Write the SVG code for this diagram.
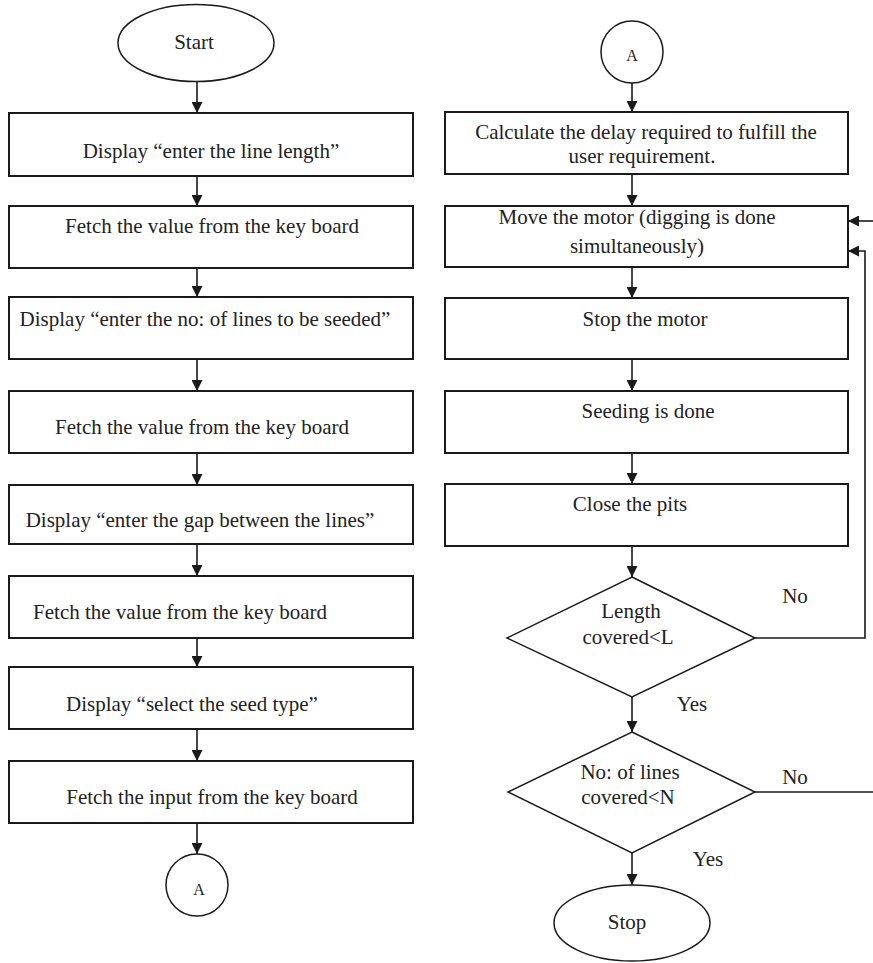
<svg xmlns="http://www.w3.org/2000/svg" width="873" height="963" viewBox="0 0 873 963">
<style>
.shape{fill:#fff;stroke:#1a1a1a;stroke-width:2}
.term{fill:#fff;stroke:#1a1a1a;stroke-width:1.5}
.t{font-family:"Liberation Serif","Times New Roman",serif;font-size:21px;fill:#222;text-anchor:middle}
.s{font-size:16px}
.c{fill:none;stroke:#1a1a1a;stroke-width:1.6}
</style>
<defs>
<marker id="ah" markerUnits="userSpaceOnUse" markerWidth="11" markerHeight="11" refX="11" refY="5.5" orient="auto">
<path d="M0,0 L11,5.5 L0,11 z" fill="#1a1a1a"/>
</marker>
</defs>
<rect width="873" height="963" fill="#fff"/>
<g id="connectors">
<line class="c" x1="197" y1="82" x2="197" y2="113" marker-end="url(#ah)"/>
<line class="c" x1="197" y1="176" x2="197" y2="206" marker-end="url(#ah)"/>
<line class="c" x1="197" y1="268" x2="197" y2="297" marker-end="url(#ah)"/>
<line class="c" x1="197" y1="359" x2="197" y2="391" marker-end="url(#ah)"/>
<line class="c" x1="197" y1="453" x2="197" y2="485" marker-end="url(#ah)"/>
<line class="c" x1="197" y1="544" x2="197" y2="576" marker-end="url(#ah)"/>
<line class="c" x1="197" y1="638" x2="197" y2="667" marker-end="url(#ah)"/>
<line class="c" x1="197" y1="729" x2="197" y2="761" marker-end="url(#ah)"/>
<line class="c" x1="197" y1="823" x2="197" y2="854" marker-end="url(#ah)"/>
<line class="c" x1="632" y1="83" x2="632" y2="112" marker-end="url(#ah)"/>
<line class="c" x1="632" y1="174" x2="632" y2="206" marker-end="url(#ah)"/>
<line class="c" x1="632" y1="267" x2="632" y2="298" marker-end="url(#ah)"/>
<line class="c" x1="632" y1="359" x2="632" y2="391" marker-end="url(#ah)"/>
<line class="c" x1="632" y1="453" x2="632" y2="484" marker-end="url(#ah)"/>
<line class="c" x1="632" y1="546" x2="632" y2="577" marker-end="url(#ah)"/>
<line class="c" x1="632" y1="697" x2="632" y2="732" marker-end="url(#ah)"/>
<line class="c" x1="632" y1="853" x2="632" y2="885" marker-end="url(#ah)"/>
<polyline class="c" points="755,638 865,638 865,251 848,251" marker-end="url(#ah)"/>
<line class="c" x1="755" y1="792" x2="873" y2="792"/>
<line class="c" x1="873" y1="221" x2="848" y2="221" marker-end="url(#ah)"/>
<text class="t" x="795" y="603">No</text>
<text class="t" x="692" y="711">Yes</text>
<text class="t" x="795" y="784">No</text>
<text class="t" x="708" y="866">Yes</text>
</g>
<g id="start">
<ellipse class="term" cx="196" cy="43" rx="78" ry="38.5"/>
<text class="t" x="194" y="49">Start</text>
</g>
<g id="box1">
<rect class="shape" x="9" y="113" width="404" height="63"/>
<text class="t" x="211" y="158">Display “enter the line length”</text>
</g>
<g id="box2">
<rect class="shape" x="9" y="206" width="404" height="62"/>
<text class="t" x="212" y="233">Fetch the value from the key board</text>
</g>
<g id="box3">
<rect class="shape" x="9" y="297" width="404" height="62"/>
<text class="t" x="205" y="326">Display “enter the no: of lines to be seeded”</text>
</g>
<g id="box4">
<rect class="shape" x="9" y="391" width="404" height="62"/>
<text class="t" x="202" y="434">Fetch the value from the key board</text>
</g>
<g id="box5">
<rect class="shape" x="9" y="485" width="404" height="59"/>
<text class="t" x="200" y="527">Display “enter the gap between the lines”</text>
</g>
<g id="box6">
<rect class="shape" x="9" y="576" width="404" height="62"/>
<text class="t" x="180" y="619">Fetch the value from the key board</text>
</g>
<g id="box7">
<rect class="shape" x="9" y="667" width="404" height="62"/>
<text class="t" x="192" y="711">Display “select the seed type”</text>
</g>
<g id="box8">
<rect class="shape" x="9" y="761" width="404" height="62"/>
<text class="t" x="212" y="804">Fetch the input from the key board</text>
</g>
<g id="connA1">
<circle class="term" cx="197" cy="885" r="31"/>
<text class="t s" x="199" y="895">A</text>
</g>
<g id="connA2">
<circle class="term" cx="632" cy="52" r="31"/>
<text class="t s" x="632" y="61">A</text>
</g>
<g id="calc">
<rect class="shape" x="445" y="112" width="403" height="62"/>
<text class="t" x="646" y="139">Calculate the delay required to fulfill the</text>
<text class="t" x="642" y="163">user requirement.</text>
</g>
<g id="move">
<rect class="shape" x="445" y="206" width="403" height="61"/>
<text class="t" x="637" y="224">Move the motor (digging is done</text>
<text class="t" x="637" y="253">simultaneously)</text>
</g>
<g id="stopmotor">
<rect class="shape" x="445" y="298" width="403" height="61"/>
<text class="t" x="645" y="326">Stop the motor</text>
</g>
<g id="seeding">
<rect class="shape" x="445" y="391" width="403" height="62"/>
<text class="t" x="648" y="418">Seeding is done</text>
</g>
<g id="close">
<rect class="shape" x="445" y="484" width="403" height="62"/>
<text class="t" x="630" y="511">Close the pits</text>
</g>
<g id="dec1">
<polygon class="term" points="632,577 755,638 632,697 507,638"/>
<text class="t" x="631" y="618">Length</text>
<text class="t" x="628" y="644">covered&lt;L</text>
</g>
<g id="dec2">
<polygon class="term" points="632,732 755,792 632,853 508,792"/>
<text class="t" x="630" y="779">No: of lines</text>
<text class="t" x="628" y="804">covered&lt;N</text>
</g>
<g id="stop">
<ellipse class="term" cx="632" cy="923" rx="78" ry="38"/>
<text class="t" x="627" y="929">Stop</text>
</g>
</svg>
